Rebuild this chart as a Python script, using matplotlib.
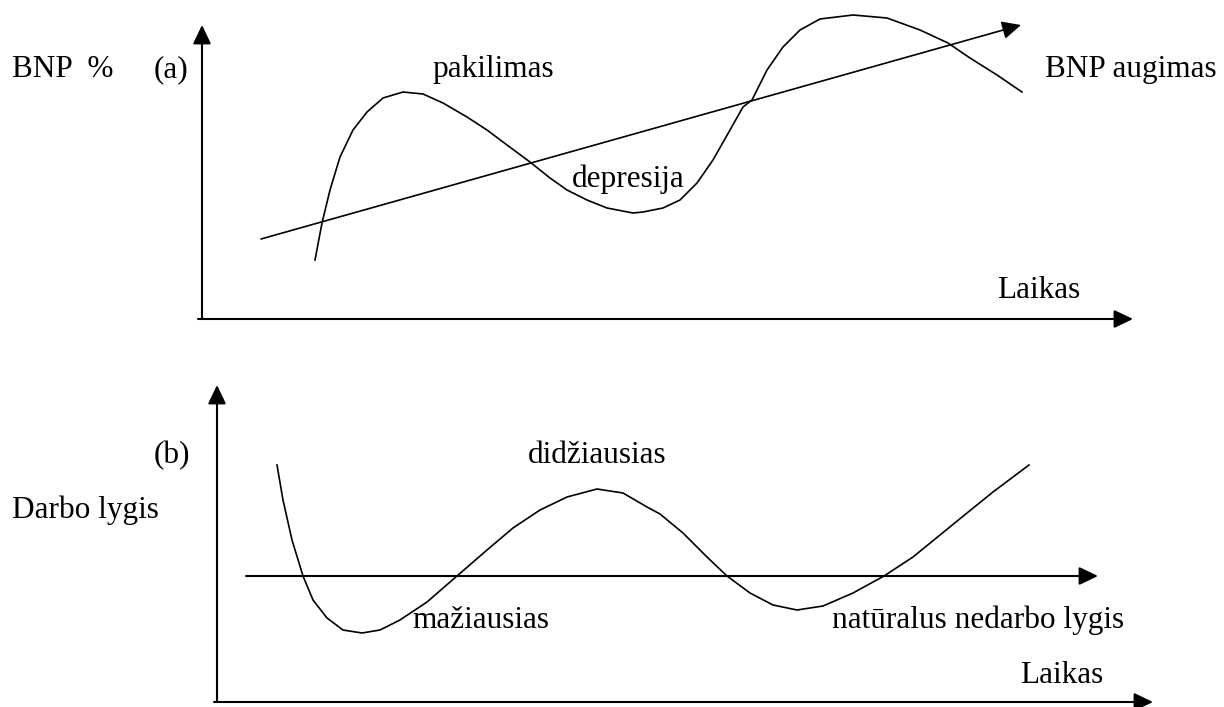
import matplotlib
matplotlib.use("Agg")
import matplotlib.pyplot as plt
from matplotlib.patches import ArrowStyle

plt.rcParams['font.family'] = ['Liberation Serif', 'DejaVu Serif']

# ---- data (diagram units, y grows downward) ----
# Panel (a): GDP cycle curve
bnp_x = [315, 322, 330, 340, 353, 367, 383, 403, 423, 443, 467, 487, 507, 530,
         550, 567, 587, 607, 633, 643, 663, 680, 697, 713, 730, 743, 752, 767,
         783, 800, 820, 853, 887, 920, 948, 970, 997, 1022]
bnp_y = [260, 223, 190, 157, 130, 112, 98, 92, 94, 103, 117, 130, 145, 162,
         178, 190, 200, 208, 213, 212, 208, 200, 183, 160, 130, 107, 100, 70,
         47, 30, 19, 15, 18, 30, 43, 58, 75, 92]
# trend line (BNP augimas)
trend_x = [261, 1021]
trend_y = [239, 25]

# Panel (b): employment curve
darbo_x = [277, 283, 292, 303, 313, 327, 343, 362, 380, 400, 427, 457, 487, 513,
           540, 567, 597, 623, 647, 660, 683, 707, 727, 750, 773, 797, 823, 853,
           884, 913, 940, 967, 993, 1029]
darbo_y = [465, 500, 540, 576, 600, 618, 630, 633, 630, 620, 602, 576, 550, 528,
           510, 497, 489, 493, 507, 514, 533, 557, 576, 593, 605, 610, 606, 593,
           576, 557, 535, 513, 492, 465]
# natural unemployment level line
natural_x = [246, 1098]
natural_y = [576, 576]

# axes of the two panels
axis_a_x = [(198, 319), (1133, 319)]
axis_a_y = [(202, 319), (202, 25)]
axis_b_x = [(214, 702), (1153, 702)]
axis_b_y = [(217, 702), (217, 385)]

labels = [
    ("BNP  %", 12, 77),
    ("(a)", 154, 77),
    ("pakilimas", 432, 77),
    ("depresija", 572, 187),
    ("BNP augimas", 1045, 77),
    ("Laikas", 997, 298),
    ("(b)", 154, 463),
    ("Darbo lygis", 12, 518),
    ("didžiausias", 528, 463),
    ("mažiausias", 412, 628),
    ("natūralus nedarbo lygis", 832, 628),
    ("Laikas", 1020, 683),
]

W, H, DPI = 1224, 707, 100
fig = plt.figure(figsize=(W / DPI, H / DPI), dpi=DPI)
ax = fig.add_axes([0, 0, 1, 1])
ax.set_xlim(0, W)
ax.set_ylim(H, 0)
ax.axis('off')

curve_lw = 1.2
axis_lw = 1.5
head = ArrowStyle('-|>', head_length=1.15, head_width=0.55)


def arrow(p0, p1, lw):
    ax.annotate('', xy=p1, xytext=p0,
                arrowprops=dict(arrowstyle=head, mutation_scale=10, lw=lw,
                                color='black', shrinkA=0, shrinkB=0))


for a in (axis_a_x, axis_a_y, axis_b_x, axis_b_y):
    arrow(a[0], a[1], axis_lw)

ax.plot(bnp_x, bnp_y, color='black', lw=curve_lw, solid_joinstyle='round')
ax.plot(darbo_x, darbo_y, color='black', lw=curve_lw, solid_joinstyle='round')
arrow((trend_x[0], trend_y[0]), (trend_x[1], trend_y[1]), curve_lw)
arrow((natural_x[0], natural_y[0]), (natural_x[1], natural_y[1]), axis_lw)

for txt, x, y in labels:
    ax.text(x, y, txt, fontsize=22.5, ha='left', va='baseline', color='black')

fig.savefig('out.png', dpi=DPI, facecolor='white')
